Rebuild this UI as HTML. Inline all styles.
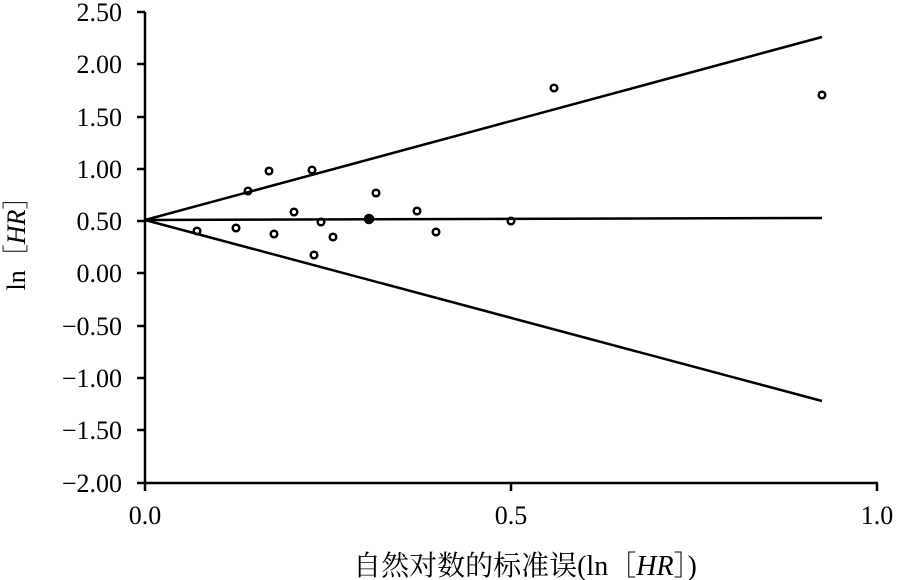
<!DOCTYPE html><html><head><style>body{margin:0;background:#fff}svg{display:block}text{font-family:"Liberation Serif","Noto Serif CJK SC",serif;font-size:26px;fill:#000}</style></head><body>
<svg width="900" height="580" viewBox="0 0 900 580">
<g stroke="#000" stroke-width="2.5" fill="none">
<line x1="145" y1="12" x2="145" y2="484"/>
<line x1="144" y1="483" x2="878" y2="483"/>
<line x1="137" y1="12" x2="145" y2="12"/><line x1="137" y1="64" x2="145" y2="64"/><line x1="137" y1="117" x2="145" y2="117"/><line x1="137" y1="169" x2="145" y2="169"/><line x1="137" y1="221" x2="145" y2="221"/><line x1="137" y1="273" x2="145" y2="273"/><line x1="137" y1="326" x2="145" y2="326"/><line x1="137" y1="378" x2="145" y2="378"/><line x1="137" y1="430" x2="145" y2="430"/><line x1="137" y1="483" x2="145" y2="483"/>
<line x1="145" y1="483" x2="145" y2="491"/><line x1="511" y1="483" x2="511" y2="491"/><line x1="877" y1="483" x2="877" y2="491"/>
<line x1="145" y1="220" x2="822" y2="37"/><line x1="145" y1="220" x2="822" y2="218"/><line x1="145" y1="220" x2="822" y2="401"/>
<g stroke-width="2.5"><circle cx="197" cy="231" r="3.3"/><circle cx="236" cy="228" r="3.3"/><circle cx="248" cy="191" r="3.3"/><circle cx="269" cy="171" r="3.3"/><circle cx="274" cy="234" r="3.3"/><circle cx="294" cy="212" r="3.3"/><circle cx="312" cy="170" r="3.3"/><circle cx="314" cy="255" r="3.3"/><circle cx="321" cy="222" r="3.3"/><circle cx="333" cy="237" r="3.3"/><circle cx="376" cy="193" r="3.3"/><circle cx="417" cy="211" r="3.3"/><circle cx="436" cy="232" r="3.3"/><circle cx="511" cy="221" r="3.3"/><circle cx="554" cy="88" r="3.3"/><circle cx="822" cy="95" r="3.3"/></g>
<circle cx="369" cy="219" r="4" fill="#000"/>
</g>
<g text-anchor="end"><text x="122" y="21">2.50</text><text x="122" y="73">2.00</text><text x="122" y="126">1.50</text><text x="122" y="178">1.00</text><text x="122" y="230">0.50</text><text x="122" y="282">0.00</text><text x="122" y="335">−0.50</text><text x="122" y="387">−1.00</text><text x="122" y="439">−1.50</text><text x="122" y="492">−2.00</text></g>
<g text-anchor="middle"><text x="145" y="524">0.0</text><text x="511" y="524">0.5</text><text x="877" y="524">1.0</text>
<text x="525" y="575" style="font-size:28px">自然对数的标准误(ln［<tspan font-style="italic">HR</tspan>］)</text></g>
<text transform="translate(25,237) rotate(-90)" text-anchor="middle">ln［<tspan font-style="italic">HR</tspan>］</text>
</svg></body></html>
